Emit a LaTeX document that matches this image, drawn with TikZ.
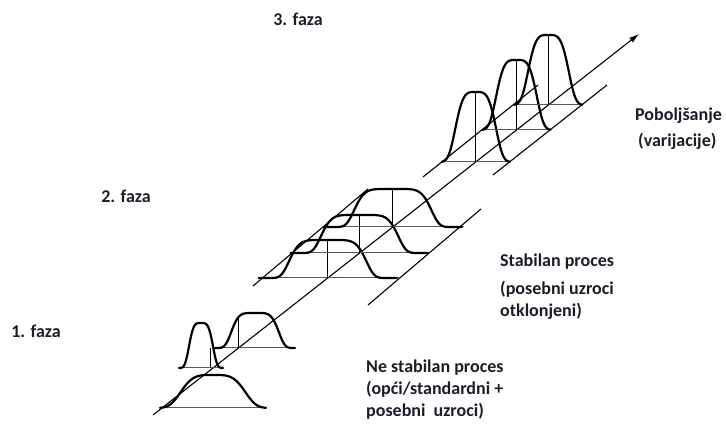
\documentclass[tikz,border=0pt]{standalone}
\usepackage{fontspec}
\setmainfont{Carlito}
\usepackage{xcolor}
\usepackage{tikz}
\usetikzlibrary{arrows.meta}
\definecolor{ink}{HTML}{1C1C28}
\definecolor{basecolor}{HTML}{5A5A5A}
\tikzset{
  bellline/.style={
    draw=black,
    line width=2.2pt,
    line join=round,
    line cap=round
  },
  footline/.style={draw=basecolor, line width=1pt},
  centerline/.style={draw=black, line width=0.9pt},
  guideline/.style={draw=black, line width=1.1pt},
  axisarrow/.style={-{Latex[length=10pt,width=6pt]}, line width=1.1pt, draw=black},
  phaselabel/.style={
    font=\bfseries\fontsize{18}{22}\selectfont,
    text=ink,
    inner sep=0pt
  },
  notelabel/.style={phaselabel, align=left, anchor=north west}
}
% bell: centre x, foot y, half width, height, spread, power
\newcommand{\bellcurve}[6]{%
  \draw[bellline] plot[domain=-#3:#3, samples=81] ({#1+\x},{#2-#4*exp(-((abs(\x)/#5)^#6))});
}

\begin{document}
\begin{tikzpicture}[x=1pt, y=-1pt]
  \useasboundingbox (0,0) rectangle (726,427);
  % main axis
  \coordinate (axstart) at (153,415);
  \coordinate (axend) at (639,34);
  \draw[axisarrow] (axstart) -- (axend);
  % phase 2 guides
  \coordinate (leftA) at (253,286);
  \coordinate (leftB) at (368,189);
  \coordinate (rightA) at (368,305);
  \coordinate (rightB) at (481,209);
  \draw[guideline] (leftA) -- (leftB);
  \draw[guideline] (rightA) -- (rightB);
  % phase 3 guides
  \coordinate (topleftA) at (423,177);
  \coordinate (topleftB) at (538,85);
  \coordinate (toprightA) at (493,175);
  \coordinate (toprightB) at (607,85);
  \draw[guideline] (topleftA) -- (topleftB);
  \draw[guideline] (toprightA) -- (toprightB);

  % phase 1
  \draw[footline] (160,408) -- (267,408);
  \bellcurve{213}{408}{53}{33}{35}{4}
  \draw[footline] (180,368) -- (222,368);
  \draw[centerline] (210,348) -- (210,368);
  \bellcurve{201}{368}{22}{45}{13}{4}
  \draw[footline] (215,348) -- (294,348);
  \draw[centerline] (238.5,348) -- (238.5,317);
  \bellcurve{255}{348}{40}{35}{25}{5}

  % phase 2
  \draw[footline] (260.7,278) -- (398.7,278);
  \draw[centerline] (327.7,278) -- (327.7,240);
  \bellcurve{327.7}{278}{69}{38}{40}{6}
  \draw[footline] (292.6,253) -- (430.6,253);
  \draw[centerline] (359.6,253) -- (359.6,215);
  \bellcurve{359.6}{253}{69}{38}{40}{6}
  \draw[footline] (325.8,227) -- (463.8,227);
  \draw[centerline] (392.8,227) -- (392.8,189);
  \bellcurve{392.8}{227}{69}{38}{40}{6}

  % phase 3
  \draw[footline] (441.7,162) -- (509.7,162);
  \draw[centerline] (475.7,162) -- (475.7,92);
  \bellcurve{475.7}{162}{34}{70}{22}{4}
  \draw[footline] (482.5,130) -- (550.5,130);
  \draw[centerline] (516.5,130) -- (516.5,60);
  \bellcurve{516.5}{130}{34}{70}{22}{4}
  \draw[footline] (514.4,105) -- (582.4,105);
  \draw[centerline] (548.4,105) -- (548.4,35);
  \bellcurve{548.4}{105}{34}{70}{22}{4}

  % labels
  \node[phaselabel] (phase3) at (298,19) {3. faza};
  \node[phaselabel] (phase2) at (126,196) {2. faza};
  \node[phaselabel] (phase1) at (36,331) {1. faza};
  \node[notelabel] (improved) at (635,108) {Poboljšanje\\[4pt]\,(varijacije)};
  \node[notelabel] (stable) at (500,254) {Stabilan proces\\[6pt](posebni uzroci\\otklonjeni)};
  \node[notelabel] (unstable) at (366,360) {Ne stabilan proces\\(opći/standardni +\\posebni\ \ uzroci)};
\end{tikzpicture}
\end{document}
